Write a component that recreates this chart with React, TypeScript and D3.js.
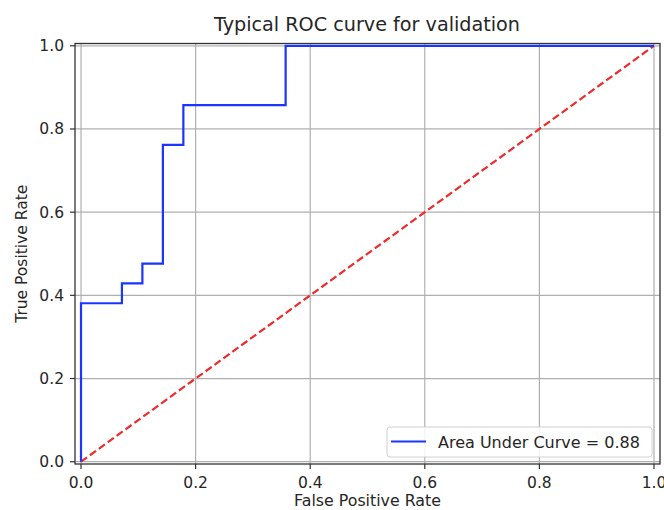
import React from "react";
import * as d3 from "d3";

const fpr = [0, 0, 0.0714, 0.0714, 0.1071, 0.1071, 0.1429, 0.1429, 0.1786, 0.1786, 0.3571, 0.3571, 1];
const tpr = [0, 0.381, 0.381, 0.4286, 0.4286, 0.4762, 0.4762, 0.7619, 0.7619, 0.8571, 0.8571, 1, 1];
const diagX = [0, 1];
const diagY = [0, 1];
const xTicks = [0, 0.2, 0.4, 0.6, 0.8, 1.0];
const yTicks = [0, 0.2, 0.4, 0.6, 0.8, 1.0];
const titleText = "Typical ROC curve for validation";
const xLabel = "False Positive Rate";
const yLabel = "True Positive Rate";
const legendLabel = "Area Under Curve = 0.88";

export default function App() {
  const W = 664, H = 510;
  const left = 75, right = 660, top = 43.5, bottom = 464;
  const x = d3.scaleLinear().domain([-0.0105, 1.0105]).range([left, right]);
  const y = d3.scaleLinear().domain([-0.0055, 1.0055]).range([bottom, top]);
  const roc = d3.line<number>().x((_, i) => x(fpr[i])).y((d) => y(d));
  const diag = d3.line<number>().x((_, i) => x(diagX[i])).y((d) => y(d));
  const font = "DejaVu Sans, sans-serif";
  const tc = "#262626";
  return (
    <svg width={W} height={H} style={{ position: "absolute", left: 0, top: 0, background: "#fff" }} fontFamily={font}>
      <rect x={0} y={0} width={W} height={H} fill="#fff" />
      {/* grid */}
      {xTicks.map((t) => (
        <line key={"gx" + t} x1={x(t)} x2={x(t)} y1={top} y2={bottom} stroke="#b0b0b0" strokeWidth={1.2} />
      ))}
      {yTicks.map((t) => (
        <line key={"gy" + t} x1={left} x2={right} y1={y(t)} y2={y(t)} stroke="#b0b0b0" strokeWidth={1.2} />
      ))}
      {/* diagonal */}
      <path d={diag(diagY) || ""} fill="none" stroke="#ee2a2a" strokeWidth={2.2} strokeDasharray="7.5,3.5" />
      {/* roc */}
      <path d={roc(tpr) || ""} fill="none" stroke="#1a35ff" strokeWidth={2.2} />
      {/* spines */}
      <rect x={left} y={top} width={right - left} height={bottom - top} fill="none" stroke="#333" strokeWidth={1.3} />
      {/* ticks */}
      {xTicks.map((t) => (
        <g key={"xt" + t}>
          <line x1={x(t)} x2={x(t)} y1={bottom} y2={bottom + 5} stroke="#333" strokeWidth={1.2} />
          <text x={x(t)} y={bottom + 24} textAnchor="middle" fontSize={15.5} fill={tc}>{t.toFixed(1)}</text>
        </g>
      ))}
      {yTicks.map((t) => (
        <g key={"yt" + t}>
          <line x1={left - 5} x2={left} y1={y(t)} y2={y(t)} stroke="#333" strokeWidth={1.2} />
          <text x={left - 11} y={y(t) + 5.5} textAnchor="end" fontSize={15.5} fill={tc}>{t.toFixed(1)}</text>
        </g>
      ))}
      {/* labels */}
      <text x={(left + right) / 2} y={506} textAnchor="middle" fontSize={15.8} fill={tc}>{xLabel}</text>
      <text transform={`translate(27,${(top + bottom) / 2}) rotate(-90)`} textAnchor="middle" fontSize={15.5} fill={tc}>{yLabel}</text>
      <text x={(left + right) / 2 - 0.5} y={31} textAnchor="middle" fontSize={19.2} fill={tc}>{titleText}</text>
      {/* legend */}
      <g>
        <rect x={387} y={427} width={265} height={30} rx={3} fill="#fff" fillOpacity={0.85} stroke="#d0d0d0" strokeWidth={1} />
        <line x1={391} x2={426} y1={441.5} y2={441.5} stroke="#1a35ff" strokeWidth={2.2} />
        <text x={438} y={447.5} fontSize={16} fill={tc}>{legendLabel}</text>
      </g>
    </svg>
  );
}
